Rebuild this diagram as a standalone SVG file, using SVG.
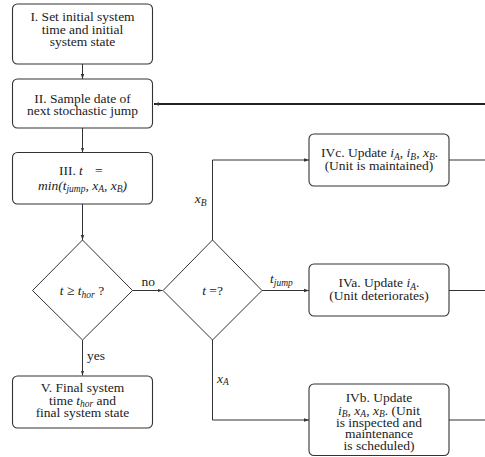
<svg xmlns="http://www.w3.org/2000/svg" width="485" height="457" viewBox="0 0 485 457">
<defs>
<marker id="ah" markerWidth="6" markerHeight="6" refX="5" refY="3" orient="auto" markerUnits="userSpaceOnUse">
<path d="M0,1.3 L5,3 L0,4.7 Z" fill="#333"/>
</marker>
<style>
.box{fill:#fff;stroke:#333;stroke-width:1.1}
.dia{fill:#fff;stroke:#333;stroke-width:1}
.ln{fill:none;stroke:#333;stroke-width:1}
.thick{fill:none;stroke:#222;stroke-width:2}
text{font-family:"Liberation Serif","Times New Roman",serif;font-size:13.5px;fill:#222}
.c{text-anchor:middle}
.i{font-style:italic}
.s{font-size:9.5px;font-style:italic}
</style>
</defs>
<rect width="485" height="457" fill="#fff"/>
<g id="connectors">
<line class="ln" x1="82.5" y1="64" x2="82.5" y2="79" marker-end="url(#ah)"/>
<line class="ln" x1="82.5" y1="128" x2="82.5" y2="152.5" marker-end="url(#ah)"/>
<line class="ln" x1="82.5" y1="204" x2="82.5" y2="240" marker-end="url(#ah)"/>
<line class="ln" x1="82.5" y1="340" x2="82.5" y2="375.5" marker-end="url(#ah)"/>
<line class="ln" x1="132.5" y1="290.5" x2="162.5" y2="290.5" marker-end="url(#ah)"/>
<polyline class="ln" points="212.5,240 212.5,160 309,160" marker-end="url(#ah)"/>
<line class="ln" x1="262" y1="290.5" x2="309" y2="290.5" marker-end="url(#ah)"/>
<polyline class="ln" points="212.5,340 212.5,420 309,420" marker-end="url(#ah)"/>
<line class="ln" x1="449" y1="160" x2="485" y2="160"/>
<line class="ln" x1="449" y1="290.5" x2="485" y2="290.5"/>
<line class="ln" x1="449" y1="420" x2="485" y2="420"/>
<line class="thick" x1="485" y1="104" x2="154" y2="104" marker-end="url(#ah)"/>
<text x="141.5" y="286">no</text>
<text x="87" y="359.5">yes</text>
<text x="206.5" y="203" text-anchor="end" class="i">x<tspan class="s" dy="2.5">B</tspan></text>
<text x="270" y="283" class="i">t<tspan class="s" dy="2.5">jump</tspan></text>
<text x="217" y="382.5" class="i">x<tspan class="s" dy="2.5">A</tspan></text>
</g>
<g id="n1">
<rect class="box" x="12.5" y="4" width="140" height="60" rx="5"/>
<text class="c" x="82.5" y="21">I. Set initial system</text>
<text class="c" x="82.5" y="33.5">time and initial</text>
<text class="c" x="82.5" y="46">system state</text>
</g>
<g id="n2">
<rect class="box" x="12.5" y="79" width="140" height="49" rx="5"/>
<text class="c" x="82.5" y="102.5">II. Sample date of</text>
<text class="c" x="82.5" y="115">next stochastic jump</text>
</g>
<g id="n3">
<rect class="box" x="12.5" y="152.5" width="140" height="51.5" rx="5"/>
<text x="59" y="174.5">III.</text>
<text x="79" y="174.5" class="i">t</text>
<text x="95" y="174.5">=</text>
<text class="c i" x="82.5" y="189.5">min(t<tspan class="s" dy="2.5">jump</tspan><tspan dy="-2.5">, x</tspan><tspan class="s" dy="2.5">A</tspan><tspan dy="-2.5">, x</tspan><tspan class="s" dy="2.5">B</tspan><tspan dy="-2.5">)</tspan></text>
</g>
<g id="d1">
<polygon class="dia" points="82.5,240 132.5,290.5 82.5,340 32.5,290.5"/>
<text class="c" x="82" y="295"><tspan class="i">t</tspan> ≥ <tspan class="i">t</tspan><tspan class="s" dy="2.5">hor</tspan><tspan dy="-2.5"> ?</tspan></text>
</g>
<g id="n5">
<rect class="box" x="12.5" y="376" width="140" height="52" rx="5"/>
<text class="c" x="82.5" y="392">V. Final system</text>
<text class="c" x="82.5" y="404.5">time <tspan class="i">t</tspan><tspan class="s" dy="2.5">hor</tspan><tspan dy="-2.5"> and</tspan></text>
<text class="c" x="82.5" y="417">final system state</text>
</g>
<g id="d2">
<polygon class="dia" points="212.5,240 262,290.5 212.5,340 163,290.5"/>
<text class="c" x="212.5" y="295"><tspan class="i">t</tspan> =?</text>
</g>
<g id="n4c">
<rect class="box" x="309" y="134" width="140" height="52" rx="5"/>
<text class="c" x="379.5" y="157">IVc.  Update <tspan class="i">i</tspan><tspan class="s" dy="2.5">A</tspan><tspan dy="-2.5">, </tspan><tspan class="i">i</tspan><tspan class="s" dy="2.5">B</tspan><tspan dy="-2.5">, </tspan><tspan class="i">x</tspan><tspan class="s" dy="2.5">B</tspan><tspan dy="-2.5">.</tspan></text>
<text class="c" x="379" y="169.5">(Unit is maintained)</text>
</g>
<g id="n4a">
<rect class="box" x="309" y="264" width="140" height="52" rx="5"/>
<text class="c" x="379" y="287">IVa.  Update <tspan class="i">i</tspan><tspan class="s" dy="2.5">A</tspan><tspan dy="-2.5">.</tspan></text>
<text class="c" x="379" y="299.5">(Unit deteriorates)</text>
</g>
<g id="n4b">
<rect class="box" x="309" y="384" width="140" height="71.5" rx="5"/>
<text class="c" x="379" y="402">IVb.  Update</text>
<text class="c" x="379" y="414.5"><tspan class="i">i</tspan><tspan class="s" dy="2.5">B</tspan><tspan dy="-2.5">, </tspan><tspan class="i">x</tspan><tspan class="s" dy="2.5">A</tspan><tspan dy="-2.5">, </tspan><tspan class="i">x</tspan><tspan class="s" dy="2.5">B</tspan><tspan dy="-2.5">.  (Unit</tspan></text>
<text class="c" x="379" y="426.5">is inspected and</text>
<text class="c" x="379" y="438">maintenance</text>
<text class="c" x="379" y="450">is scheduled)</text>
</g>
</svg>
